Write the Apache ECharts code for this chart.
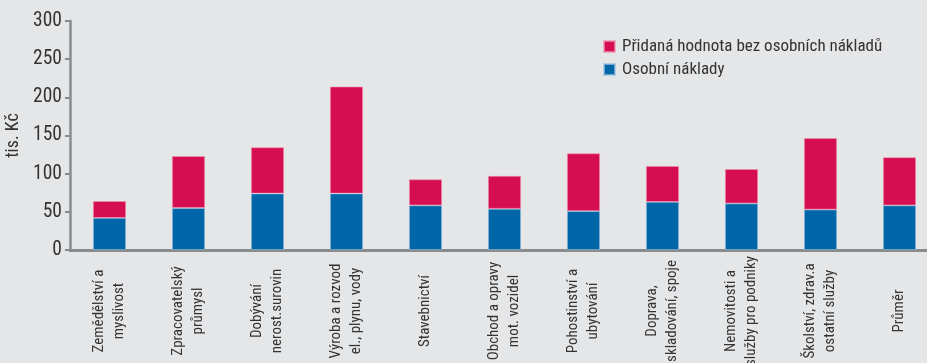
<!DOCTYPE html>
<html>
<head>
<meta charset="utf-8">
<script src="https://cdn.jsdelivr.net/npm/echarts@6/dist/echarts.min.js"></script>
<style>
html,body{margin:0;padding:0;background:#e5e6e8;}
#c{width:927px;height:363px;}
</style>
</head>
<body>
<div id="c"></div>
<script>
const categories = [
  'Zemědělství a\nmyslivost',
  'Zpracovatelský\nprůmysl',
  'Dobývání\nnerost.surovin',
  'Výroba a rozvod\nel., plynu, vody',
  'Stavebnictví',
  'Obchod a opravy\nmot. vozidel',
  'Pohostinství a\nubytování',
  'Doprava,\nskladování, spoje',
  'Nemovitosti a\nslužby pro podniky',
  'Školství, zdrav.a\nostatní služby',
  'Průměr'
];
const osobniNaklady = [42, 55, 74, 74, 58.5, 54, 51, 63, 61, 53, 58.5];
const pridanaHodnota = [22, 68, 60.5, 140, 34, 43, 75.5, 47, 45, 93.5, 63];
const yTicks = [0, 50, 100, 150, 200, 250, 300];
const seriesNames = ['Přidaná hodnota bez osobních nákladů', 'Osobní náklady'];

// pick a condensed font if one is installed
function hasFont(name) {
  const c = document.createElement('canvas').getContext('2d');
  const s = 'Přidaná hodnota bez osobních nákladů 0123';
  c.font = '40px monospace'; const a = c.measureText(s).width;
  c.font = '40px "' + name + '", monospace'; const b = c.measureText(s).width;
  return Math.abs(a - b) > 0.5;
}
const narrow = ['Roboto Condensed', 'Liberation Sans Narrow', 'Arial Narrow'].find(hasFont);
const FONT = narrow ? '"' + narrow + '", sans-serif' : '"Liberation Sans", Arial, sans-serif';
const sz = narrow ? {legend: 17, x: 15, y: 19.5, name: 18} : {legend: 15.5, x: 13.5, y: 16.5, name: 16};

const chart = echarts.init(document.getElementById('c'));
chart.setOption({
  backgroundColor: '#e5e6e8',
  animation: false,
  textStyle: {fontFamily: FONT},
  legend: {
    orient: 'vertical',
    left: 598,
    top: 33,
    itemWidth: 11,
    itemHeight: 11,
    itemGap: 6,
    icon: 'rect',
    data: seriesNames,
    textStyle: {fontFamily: FONT, fontSize: sz.legend, color: '#333', padding: [0, 0, 0, 2]}
  },
  grid: {left: 70, top: 21, width: 869, height: 229, containLabel: false, outerBoundsMode: 'none'},
  xAxis: {
    type: 'category',
    data: categories,
    axisLine: {lineStyle: {color: '#8a8b8d', width: 3}},
    axisTick: {show: false},
    axisLabel: {
      rotate: 90,
      interval: 0,
      margin: 61,
      align: 'center',
      verticalAlign: 'middle',
      fontFamily: FONT,
      fontSize: sz.x,
      lineHeight: 20,
      color: '#333'
    }
  },
  yAxis: {
    type: 'value',
    min: yTicks[0],
    max: yTicks[yTicks.length - 1],
    interval: yTicks[1] - yTicks[0],
    name: 'tis. Kč',
    nameLocation: 'middle',
    nameGap: 44,
    nameRotate: 90,
    nameTextStyle: {fontFamily: FONT, fontSize: sz.name, color: '#333'},
    axisLine: {show: true, lineStyle: {color: '#8a8b8d', width: 2.5}},
    axisTick: {show: true, length: 5, lineStyle: {color: '#8a8b8d', width: 2}},
    splitLine: {show: false},
    axisLabel: {fontFamily: FONT, fontSize: sz.y, color: '#333', margin: 8}
  },
  series: [
    {
      name: seriesNames[1],
      type: 'bar',
      stack: 'a',
      data: osobniNaklady,
      barWidth: 33,
      itemStyle: {color: '#0066a8', borderColor: 'rgba(160,195,225,0.7)', borderWidth: 0.8}
    },
    {
      name: seriesNames[0],
      type: 'bar',
      stack: 'a',
      data: pridanaHodnota,
      barWidth: 33,
      itemStyle: {color: '#d50e52', borderColor: 'rgba(240,150,180,0.7)', borderWidth: 0.8}
    }
  ]
});
</script>
</body>
</html>
